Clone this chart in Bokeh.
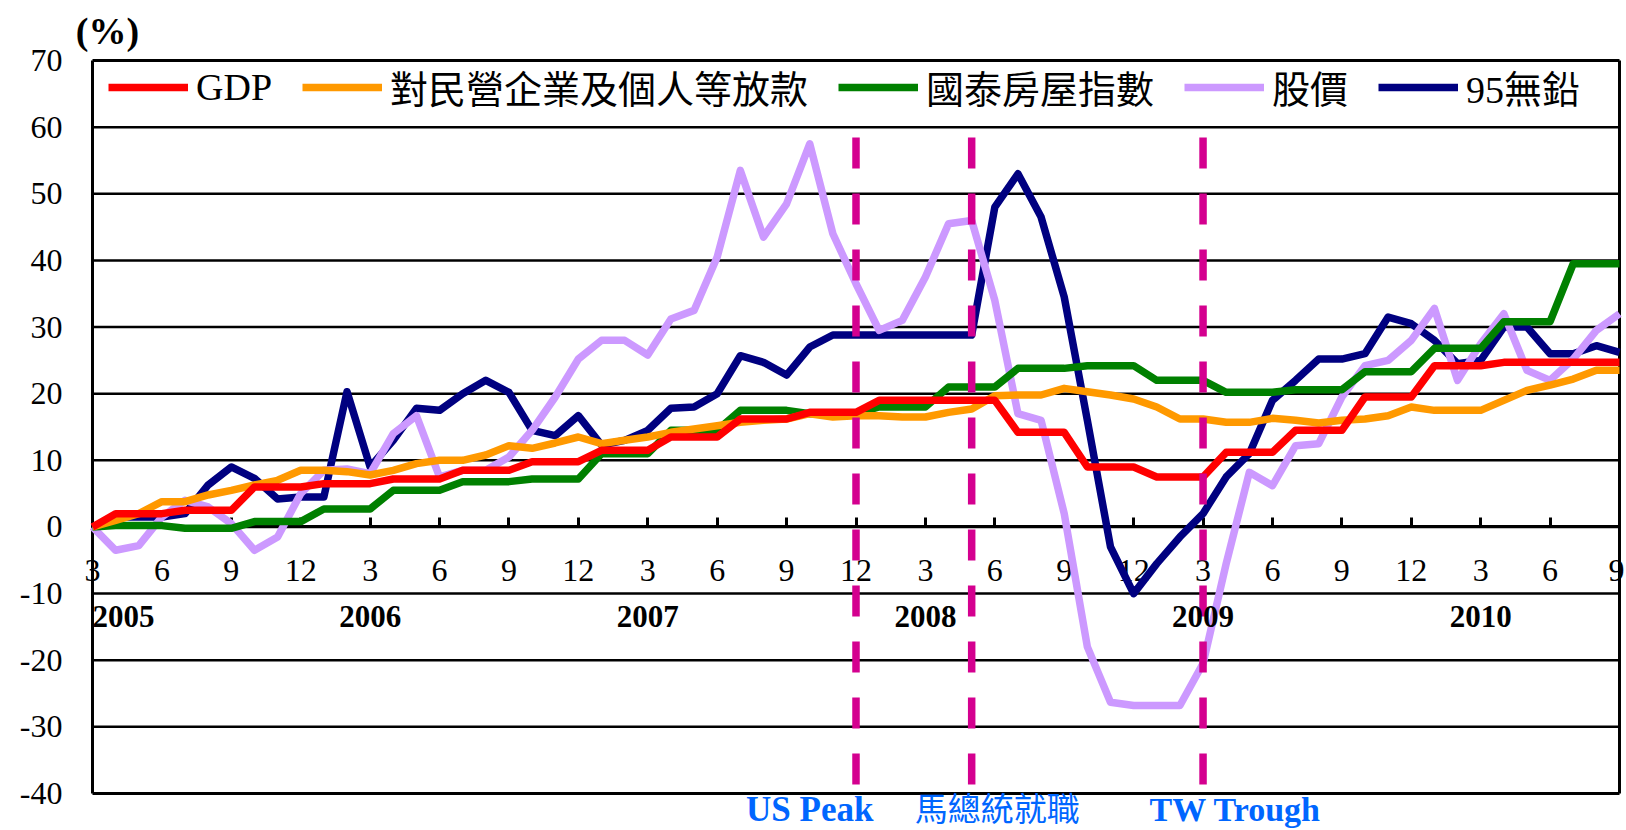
import pandas as pd
from bokeh.plotting import figure
from bokeh.models import (Range1d, FixedTicker, Legend, LegendItem, Label,
                          LabelSet, ColumnDataSource, LinearAxis)
from bokeh.core.properties import value
from bokeh.embed import file_html
from bokeh.resources import INLINE

# ---------------- data ----------------
months = pd.period_range("2005-03", "2010-09", freq="M")   # 67 monthly categories

gdp = [0, 2, 2, 2, 2.5, 2.5, 2.5, 6, 6, 6, 6.5, 6.5, 6.5, 7.2, 7.2, 7.2, 8.5, 8.5, 8.5,
       9.8, 9.8, 9.8, 11.5, 11.5, 11.5, 13.5, 13.5, 13.5, 16.2, 16.2, 16.2, 17.2, 17.2, 17.2,
       19, 19, 19, 19, 19, 19, 14.2, 14.2, 14.2, 9, 9, 9, 7.5, 7.5, 7.5, 11.2, 11.2, 11.2,
       14.5, 14.5, 14.5, 19.5, 19.5, 19.5, 24.2, 24.2, 24.2, 24.7, 24.7, 24.7, 24.7, 24.7, 24.7]

loans = [0, 1, 2, 3.8, 3.8, 4.8, 5.5, 6.3, 7, 8.5, 8.5, 8.3, 7.8, 8.5, 9.5, 10, 10, 10.8, 12.2,
         11.8, 12.6, 13.5, 12.5, 13, 13.5, 14.2, 14.7, 15.2, 15.7, 16, 16.2, 17, 16.5, 16.7,
         16.7, 16.5, 16.5, 17.2, 17.7, 19.7, 19.8, 19.8, 20.8, 20.3, 19.8, 19.2, 18, 16.2, 16.2,
         15.7, 15.7, 16.3, 16, 15.6, 16, 16.2, 16.7, 18, 17.5, 17.5, 17.5, 19, 20.5, 21.3, 22.2,
         23.5, 23.5]

house = [0, 0.2, 0.2, 0.2, -0.2, -0.2, -0.2, 0.8, 0.8, 0.8, 2.7, 2.7, 2.7, 5.5, 5.5, 5.5,
         6.8, 6.8, 6.8, 7.2, 7.2, 7.2, 11, 11, 11, 14.5, 14.5, 14.5, 17.5, 17.5, 17.5, 17, 17, 17,
         18, 18, 18, 21, 21, 21, 23.8, 23.8, 23.8, 24.2, 24.2, 24.2, 22, 22, 22, 20.2, 20.2, 20.2,
         20.6, 20.6, 20.6, 23.3, 23.3, 23.3, 26.8, 26.8, 26.8, 30.8, 30.8, 30.8, 39.5, 39.5, 39.5]

stock = [0, -3.5, -2.8, 1.5, 4, 3, 0.5, -3.5, -1.5, 5, 8.5, 8.7, 8, 14, 16.7, 7.5, 8.5, 8.5,
         10.5, 14.5, 19.5, 25.2, 28, 28, 25.8, 31.2, 32.5, 40.5, 53.5, 43.5, 48.5, 57.5, 44, 36.5,
         29.5, 31, 37.5, 45.5, 46, 34, 17, 16, 2, -18, -26.3, -26.8, -26.8, -26.8, -20.5, -5.5,
         8.2, 6.2, 12.2, 12.5, 19.5, 24.2, 25, 28, 32.8, 22, 27.5, 32, 23.5, 22, 25.2, 29.5, 32]

gas95 = [0, 1.5, 1.5, 1.5, 2, 6.3, 9, 7.3, 4.2, 4.5, 4.5, 20.3, 9, 13, 17.8, 17.5, 20, 22, 20.2,
         14.5, 13.7, 16.7, 12.3, 13, 14.5, 17.8, 18, 20, 25.7, 24.7, 22.8, 27, 28.8, 28.8, 28.8,
         28.8, 28.8, 28.8, 28.8, 48, 53, 46.5, 34.5, 16, -3, -10, -5.5, -1.5, 2, 7.5, 11, 19, 22,
         25.2, 25.2, 26, 31.5, 30.5, 28, 24.5, 25, 30, 30, 26, 26, 27.2, 26.2]

series_names = ["GDP", "對民營企業及個人等放款", "國泰房屋指數", "股價", "95無鉛"]
y_ticks = [-40, -30, -20, -10, 0, 10, 20, 30, 40, 50, 60, 70]
y_tick_labels = ["-40", "-30", "-20", "-10", "0", "10", "20", "30", "40", "50", "60", "70"]
tick_months = [3, 6, 9, 12]
years = ["2005", "2006", "2007", "2008", "2009", "2010"]
event_months = ["2007-12", "2008-05", "2009-03"]
event_texts_latin = ["US Peak", "TW Trough"]
event_texts_cjk = ["馬總統就職"]

# ---------------- style / layout ----------------
colors = ["#FF0000", "#FF9900", "#008000", "#CC99FF", "#000080"]
MAG = "#D4008F"
BLUE = "#0066FF"
SERIF = "Liberation Serif"
CJK = "Noto Sans CJK TC"
MIX = "'Liberation Serif', 'Noto Sans CJK TC'"

W, H = 1624, 830
PLOT_L, PLOT_R, PLOT_T, PLOT_B = 92, 1619, 60, 793     # page pixels of the chart box
n = len(months)
YMIN, YMAX = y_ticks[0], y_ticks[-1]
pxm = (PLOT_R - PLOT_L) / (n - 1)                       # px per month
pxu = (PLOT_B - PLOT_T) / (YMAX - YMIN)                 # px per percent


def ypix(py):
    return YMAX - (py - PLOT_T) / pxu


x_range = Range1d(-PLOT_L / pxm, (W - PLOT_L) / pxm)
y_range = Range1d(ypix(H), ypix(0))

x = list(range(n))
src = ColumnDataSource(dict(x=x, gdp=gdp, loans=loans, house=house, stock=stock, gas95=gas95))

p = figure(width=W, height=H, output_backend="svg", toolbar_location=None,
           x_range=x_range, y_range=y_range, min_border=0)
p.outline_line_color = None
p.background_fill_color = "white"
p.border_fill_color = "white"
p.grid.visible = False

# horizontal grid lines and box top/bottom
inner = y_ticks[1:-1]
p.segment(x0=[0] * len(inner), y0=inner, x1=[n - 1] * len(inner), y1=inner,
          line_color="black", line_width=2.5, level="underlay")
p.segment(x0=[0, 0], y0=[YMIN, YMAX], x1=[n - 1, n - 1], y1=[YMIN, YMAX],
          line_color="black", line_width=3, level="underlay")

# y axis (left edge of box)
ya = p.yaxis[0]
ya.fixed_location = 0
ya.bounds = (YMIN, YMAX)
ya.ticker = FixedTicker(ticks=y_ticks)
ya.major_label_overrides = {v: s for v, s in zip(y_ticks, y_tick_labels)}
ya.axis_line_color = "black"
ya.axis_line_width = 3
ya.major_tick_line_color = None
ya.minor_tick_line_color = None
ya.major_label_standoff = 24
ya.major_label_text_font = SERIF
ya.major_label_text_font_size = "32px"
ya.major_label_text_color = "black"
ya.level = "underlay"

# right edge of box
ra = LinearAxis(fixed_location=n - 1, bounds=(YMIN, YMAX), ticker=FixedTicker(ticks=[]),
                axis_line_color="black", axis_line_width=3, major_tick_line_color=None,
                minor_tick_line_color=None, major_label_text_font_size="0px", level="underlay")
p.add_layout(ra, "right")

# x axis at zero
tick_idx = [i for i, m in enumerate(months) if m.month in tick_months]
xa = p.xaxis[0]
xa.fixed_location = 0
xa.bounds = (0, n - 1)
xa.ticker = FixedTicker(ticks=tick_idx)
xa.major_label_overrides = {i: str(months[i].month) for i in tick_idx}
xa.axis_line_color = "black"
xa.axis_line_width = 3
xa.major_tick_line_color = "black"
xa.major_tick_line_width = 3
xa.major_tick_in = 9
xa.major_tick_out = 0
xa.minor_tick_line_color = None
xa.major_label_standoff = 33
xa.major_label_text_font = SERIF
xa.major_label_text_font_size = "32px"
xa.major_label_text_color = "black"
xa.level = "underlay"

# series (drawn last-legend-first so GDP sits on top)
keys = ["gdp", "loans", "house", "stock", "gas95"]
renderers = {}
for k, c in reversed(list(zip(keys, colors))):
    renderers[k] = p.line("x", k, source=src, line_color=c, line_width=7.5, line_join="round")

# event lines
ev_x = [months.get_loc(pd.Period(m, "M")) for m in event_months]
p.segment(x0=ev_x, y0=[ypix(137)] * len(ev_x), x1=ev_x, y1=[YMIN] * len(ev_x),
          line_color=MAG, line_width=7.5, line_dash="31 25")

# legend
legend = Legend(items=[LegendItem(label=nm, renderers=[renderers[k]]) for nm, k in zip(series_names, keys)],
                orientation="horizontal", location=(PLOT_L + 16, H - 114),
                label_text_font=MIX, label_text_font_size="38px", label_text_color="black",
                label_standoff=8, glyph_width=80, glyph_height=20, spacing=30,
                padding=0, margin=0, border_line_alpha=0, background_fill_alpha=0)
p.add_layout(legend)

# unit label
p.add_layout(Label(x=0, y=ypix(30), x_offset=15, text="(%)", text_align="center",
                   text_baseline="middle", text_font=SERIF, text_font_style="bold",
                   text_font_size="38px", text_color="black"))

# year labels
p.add_layout(Label(x=0, y=ypix(616), text=years[0], text_align="left", text_baseline="middle",
                   text_font=SERIF, text_font_style="bold", text_font_size="31px",
                   text_color="black"))
yr_x = [months.get_loc(pd.Period(f"{y}-03", "M")) for y in years[1:]]
ysrc = ColumnDataSource(dict(x=yr_x, y=[ypix(616)] * len(yr_x), t=years[1:]))
p.add_layout(LabelSet(x="x", y="y", text="t", source=ysrc, text_align="center",
                      text_baseline="middle", text_font=SERIF, text_font_style="bold",
                      text_font_size="31px", text_color="black"))

# event annotations below the box
p.text(x=[31.0], y=[ypix(809)], text=event_texts_latin[:1], text_align="center",
       text_baseline="middle", text_color=BLUE, text_font=value(SERIF),
       text_font_style="bold", text_font_size="35px")
p.text(x=[49.4], y=[ypix(809)], text=event_texts_latin[1:], text_align="center",
       text_baseline="middle", text_color=BLUE, text_font=value(SERIF),
       text_font_style="bold", text_font_size="34px")
p.text(x=[39.1], y=[ypix(806)], text=event_texts_cjk, text_align="center",
       text_baseline="middle", text_color=BLUE, text_font=value(CJK),
       text_font_size="33px")

open("out.html", "w").write(file_html(p, INLINE))
